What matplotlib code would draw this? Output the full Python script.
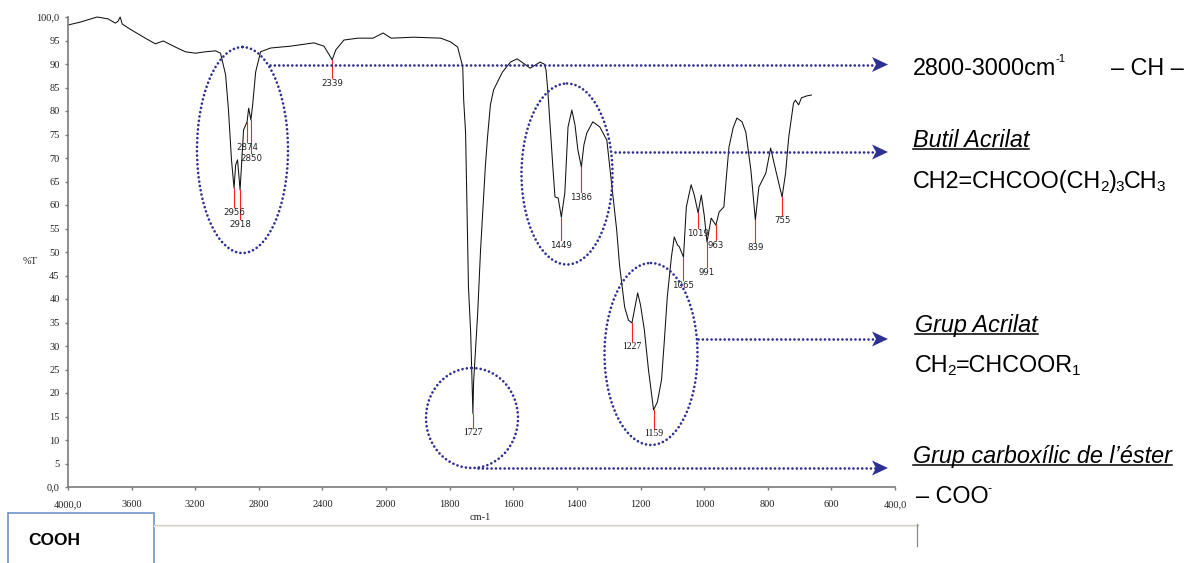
import numpy as np
import matplotlib
matplotlib.use("Agg")
import matplotlib.pyplot as plt
from matplotlib.patches import Ellipse, Polygon, Rectangle
from matplotlib.lines import Line2D
from matplotlib.transforms import Affine2D

# FTIR transmittance spectrum of the acrylic sample
wavenumber = [
    4000, 3924, 3817, 3748, 3703, 3685, 3672, 3659, 3609, 3514,
    3451, 3401, 3325, 3262, 3199, 3136, 3073, 3041, 3009, 2991,
    2972, 2956, 2946, 2934, 2918, 2909, 2896, 2874, 2864, 2850,
    2839, 2820, 2789, 2726, 2600, 2454, 2391, 2360, 2339, 2316,
    2265, 2177, 2082, 2019, 1984, 1913, 1828, 1797, 1775, 1759,
    1756, 1750, 1744, 1741, 1734, 1727, 1725, 1712, 1703, 1694,
    1688, 1681, 1672, 1662, 1634, 1609, 1588, 1569, 1547, 1516,
    1503, 1497, 1491, 1484, 1475, 1469, 1459, 1449, 1438, 1428,
    1416, 1406, 1397, 1386, 1378, 1369, 1350, 1328, 1306, 1288,
    1275, 1266, 1250, 1238, 1227, 1219, 1209, 1200, 1188, 1175,
    1159, 1147, 1134, 1125, 1116, 1103, 1094, 1084, 1078, 1065,
    1056, 1041, 1031, 1019, 1009, 1000, 991, 978, 963, 953,
    938, 931, 922, 909, 897, 881, 869, 853, 839, 828,
    806, 791, 775, 755, 744, 734, 719, 713, 703, 694,
    678, 663,
]
transmittance = [
    98.3, 98.9, 100.0, 99.6, 98.7, 99.1, 100.0, 98.5, 97.4, 95.5,
    94.3, 94.9, 93.6, 92.6, 92.3, 92.6, 92.8, 92.3, 87.7, 80.2,
    69.6, 63.6, 68.5, 69.6, 63.2, 68.5, 76.0, 77.7, 80.6, 78.1,
    81.3, 88.3, 92.6, 93.4, 93.8, 94.5, 93.8, 92.1, 90.9, 93.0,
    95.1, 95.5, 95.5, 96.6, 95.5, 95.7, 95.5, 94.7, 93.6, 89.4,
    82.3, 75.3, 54.0, 42.6, 32.8, 15.6, 22.1, 37.0, 50.4, 61.1,
    68.1, 74.5, 81.3, 84.5, 88.3, 90.4, 91.1, 90.2, 89.1, 90.4,
    90.0, 88.7, 83.8, 76.6, 67.4, 61.7, 61.5, 57.4, 62.6, 76.6,
    80.2, 77.0, 71.7, 68.1, 72.8, 75.3, 77.7, 76.6, 73.8, 62.6,
    54.7, 47.2, 38.3, 35.5, 34.9, 37.7, 41.3, 38.7, 33.4, 24.9,
    16.4, 18.1, 22.8, 31.3, 40.4, 48.9, 53.2, 51.5, 51.1, 48.9,
    59.6, 64.3, 62.1, 58.3, 62.1, 57.9, 52.1, 57.2, 55.7, 58.5,
    59.6, 65.3, 72.3, 76.4, 78.5, 77.7, 75.5, 67.4, 56.8, 63.8,
    66.8, 72.1, 67.4, 61.7, 66.8, 74.5, 81.7, 82.3, 81.3, 82.8,
    83.2, 83.4,
]

# Picked peaks
peak_wavenumbers = [2956, 2918, 2874, 2850, 2339, 1727, 1449, 1386,
                    1227, 1159, 1065, 1019, 991, 963, 839, 755]
peak_labels = [str(p) for p in peak_wavenumbers]

x_ticks = [4000, 3600, 3200, 2800, 2400, 2000, 1800, 1600, 1400, 1200,
           1000, 800, 600, 400]
x_tick_labels = ["4000,0", "3600", "3200", "2800", "2400", "2000", "1800",
                 "1600", "1400", "1200", "1000", "800", "600", "400,0"]
y_ticks = list(range(0, 101, 5))
y_tick_labels = ["0,0"] + [str(v) for v in range(5, 100, 5)] + ["100,0"]

# Peak stem lengths (in %T) and which labels use the serif face
stem_length = [4.0, 6.2, 4.3, 7.0, 3.8, 2.8, 4.9, 5.3,
               3.8, 3.8, 4.9, 3.2, 5.3, 3.2, 4.7, 3.8]
serif_peaks = {1727, 1227, 1159}

NAVY = "#2E3192"
W, H = 1187, 563

fig = plt.figure(figsize=(W / 100, H / 100), dpi=100)
fig.patch.set_facecolor("white")
pix = Affine2D().scale(1, -1).translate(0, H)  # top-left pixel coordinates

ax = fig.add_axes([68 / W, 1 - 487 / H, (895 - 68) / W, (487 - 17) / H])


def fwd(w):
    w = np.asarray(w, dtype=float)
    return np.where(w > 2000, 2000 + (w - 2000) / 2.0, w)


def inv(u):
    u = np.asarray(u, dtype=float)
    return np.where(u > 2000, 2000 + (u - 2000) * 2.0, u)


ax.set_xscale("function", functions=(fwd, inv))
ax.set_xlim(4000, 400)
ax.set_ylim(0, 100)

ax.plot(wavenumber, transmittance, color="#111111", lw=0.75, clip_on=False,
        solid_joinstyle="round")

# Peak markers
wn_asc = np.array(wavenumber[::-1], dtype=float)
t_asc = np.array(transmittance[::-1], dtype=float)
for p, lab, d in zip(peak_wavenumbers, peak_labels, stem_length):
    t = float(np.interp(p, wn_asc, t_asc))
    ax.plot([p, p], [t, t - d], color="#FF2020", lw=0.8)
    if p in serif_peaks:
        ax.text(p, t - d - 0.2, lab, ha="center", va="top", fontsize=7,
                family="Liberation Serif", color="#111111")
    else:
        ax.text(p, t - d - 0.2, lab, ha="center", va="top", fontsize=6.2,
                family="DejaVu Sans", color="#222222")

for s in ["top", "right"]:
    ax.spines[s].set_visible(False)
for s in ["left", "bottom"]:
    ax.spines[s].set_color("#7a7a7a")
    ax.spines[s].set_linewidth(1.2)

ax.set_xticks(x_ticks)
ax.set_xticklabels(x_tick_labels)
ax.set_yticks(y_ticks)
ax.set_yticklabels(y_tick_labels)
ax.tick_params(axis="both", colors="#7a7a7a", labelcolor="#222222",
               labelsize=7.5, length=2.5, width=1)
ax.tick_params(axis="x", pad=7)
ax.tick_params(axis="y", pad=3.5)
for lab in ax.get_xticklabels() + ax.get_yticklabels():
    lab.set_family("Liberation Serif")
ax.minorticks_off()

fig.text(30, 262, "%T", transform=pix, ha="center", va="center",
         fontsize=7.5, family="Liberation Serif", color="#222222")
fig.text(480, 517, "cm-1", transform=pix, ha="center", va="center",
         fontsize=7.5, family="Liberation Serif", color="#222222")

# Dotted annotation ellipses
dot_style = (0, (0.01, 1.6))
for (cx, cy, ew, eh) in [(242.5, 150, 91, 206), (472, 418, 92, 100),
                         (567, 174, 91, 181), (651, 354, 93, 182)]:
    e = Ellipse((cx, cy), ew, eh, transform=pix, fill=False, ec=NAVY,
                lw=1.95, linestyle=dot_style, capstyle="round")
    fig.add_artist(e)

# Dotted arrows towards the assignments
tip_x = 888
for (x0, y) in [(270, 64.5), (615, 152), (698, 339), (478, 468)]:
    fig.add_artist(Line2D([x0, tip_x - 12], [y, y], transform=pix,
                          color=NAVY, lw=1.95, linestyle=dot_style,
                          dash_capstyle="round"))
    head = Polygon([(tip_x, y), (tip_x - 16, y - 7.5), (tip_x - 12, y),
                    (tip_x - 16, y + 7.5)], closed=True, transform=pix,
                   fc=NAVY, ec="none")
    fig.add_artist(head)

renderer = fig.canvas.get_renderer()
FONT = "Liberation Sans"


def rich(x, baseline, parts, underline=False):
    """Draw consecutive text runs: (text, size, vertical shift in px, style)."""
    x_start = x
    prev_size = None
    for s, size, dy, style in parts:
        if prev_size is not None and size < prev_size:
            x -= 1.0
        t = fig.text(x, baseline + dy, s, transform=pix, ha="left",
                     va="baseline", fontsize=size, family=FONT, style=style,
                     color="black")
        bb = t.get_window_extent(renderer)
        x = bb.x1
        prev_size = size
    if underline:
        fig.add_artist(Line2D([x_start, x], [baseline + 2.2, baseline + 2.2],
                              transform=pix, color="black", lw=1.1))
    return x


BIG, SUB = 16.8, 11
rich(913, 75, [("2800-3000cm", BIG, 0, "normal"), ("-1", 8, -13, "normal")])
rich(1111, 75, [("\u2013 CH \u2013", BIG, 0, "normal")])
rich(913, 147, [("Butil Acrilat", BIG, 0, "italic")], underline=True)
rich(913, 188, [("CH2=CHCOO(CH", BIG, 0, "normal"), ("2", SUB, 3, "normal"),
                (")", BIG, 0, "normal"), ("3", SUB, 3, "normal"),
                ("CH", BIG, 0, "normal"), ("3", SUB, 3, "normal")])
rich(915, 332, [("Grup Acrilat", BIG, 0, "italic")], underline=True)
rich(915, 372, [("CH", BIG, 0, "normal"), ("2", SUB, 3, "normal"),
                ("=CHCOOR", BIG, 0, "normal"), ("1", SUB, 3, "normal")])
rich(913, 463, [("Grup carbox\u00edlic de l\u2019\u00e9ster", BIG, 0, "italic")],
     underline=True)
rich(916, 503, [("\u2013 COO", BIG, 0, "normal"), ("-", 9, -11, "normal")])

# Frame lines below the chart
fig.add_artist(Line2D([154, 918], [524.5, 524.5], transform=pix,
                      color="#D3CFC7", lw=0.9))
fig.add_artist(Line2D([154, 918], [526, 526], transform=pix,
                      color="#ECEAE4", lw=0.8))
fig.add_artist(Line2D([917, 917], [524, 546], transform=pix,
                      color="#8a8a8a", lw=0.9))

# Text box with label
box = Rectangle((8, 513), 146, 60, transform=pix, fc="white",
                ec="#6F93C9", lw=1.2)
fig.add_artist(box)
fig.text(28, 545, "COOH", transform=pix, ha="left", va="baseline",
         fontsize=12.5, family="Liberation Sans", weight="bold",
         color="black")

fig.savefig("out.png", dpi=100)
